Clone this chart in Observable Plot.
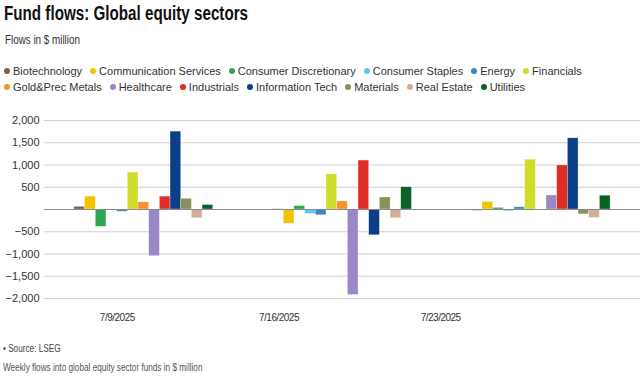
<!DOCTYPE html>
<html>
<head>
<meta charset="utf-8">
<script src="https://cdn.jsdelivr.net/npm/d3@7"></script>
<script src="https://cdn.jsdelivr.net/npm/@observablehq/plot@0.6"></script>
<style>
  html, body { margin: 0; padding: 0; background: #fff; }
  body { width: 643px; height: 380px; overflow: hidden; font-family: "Liberation Sans", Arial, sans-serif; color: #222; }
  .narrow { display: inline-block; transform: scaleX(0.82); transform-origin: 0 50%; white-space: nowrap; }
  .title .narrow { transform: scaleX(0.76); }
  .title { font-size: 20px; font-weight: bold; line-height: 24px; padding: 1px 0 0 4px; color: #111; }
  .subtitle { font-size: 12px; line-height: 16px; margin-top: 7px; padding-left: 5px; color: #333; }
  .legend { display: flex; flex-wrap: wrap; margin-top: 15px; padding-left: 4px; font-size: 11px; line-height: 16px; color: #333; }
  .legend .item { display: flex; align-items: center; margin-right: 8px; white-space: nowrap; }
  .legend .sw { width: 6px; height: 6px; border-radius: 50%; margin-right: 3px; }
  #chart { margin-top: 4px; height: 206px; }
  #labels { height: 24px; }
  .foot { font-size: 10px; line-height: 14px; padding-left: 3px; color: #444; }
  .source { margin-top: 13px; }
  .caption { margin-top: 5px; color: #555; }
</style>
</head>
<body>
<div class="title"><span class="narrow">Fund flows: Global equity sectors</span></div>
<div class="subtitle"><span class="narrow">Flows in $ million</span></div>
<div class="legend" id="legend"></div>
<div id="chart"></div>
<div id="labels"></div>
<div class="foot source"><span class="narrow">• Source: LSEG</span></div>
<div class="foot caption"><span class="narrow">Weekly flows into global equity sector funds in $ million</span></div>
<script>
const dates = ["7/9/2025", "7/16/2025", "7/23/2025"];
const sectors = ["Biotechnology", "Communication Services", "Consumer Discretionary", "Consumer Staples", "Energy", "Financials", "Gold&Prec Metals", "Healthcare", "Industrials", "Information Tech", "Materials", "Real Estate", "Utilities"];
const sectorColors = ["#7d5e4b", "#f2c300", "#2ea553", "#5cc8f5", "#3a86c5", "#cfdc2a", "#f7922c", "#9a87c5", "#e02d28", "#0b3f87", "#86925a", "#d3ad96", "#0b6127"];
const flows_0709 = [60, 290, -390, -15, -50, 830, 160, -1050, 290, 1750, 240, -195, 100];
const flows_0716 = [5, -320, 75, -100, -130, 790, 180, -1920, 1100, -580, 270, -195, 500];
const flows_0723 = [-30, 170, 35, -40, 50, 1120, -20, 315, 990, 1600, -110, -190, 310];
const yTicks = [2000, 1500, 1000, 500, -500, -1000, -1500, -2000];

const series = [flows_0709, flows_0716, flows_0723];
const data = dates.flatMap((d, i) => sectors.map((s, j) => ({date: d, sector: s, value: series[i][j]})));

// Legend
const legend = document.getElementById("legend");
sectors.forEach((s, i) => {
  const it = document.createElement("div");
  it.className = "item";
  const sw = document.createElement("span");
  sw.className = "sw";
  sw.style.background = sectorColors[i];
  it.appendChild(sw);
  it.appendChild(document.createTextNode(s));
  legend.appendChild(it);
});

const chart = Plot.plot({
  width: 643,
  height: 206,
  marginLeft: 44,
  marginRight: 3,
  marginTop: 21,
  marginBottom: 7,
  style: {fontFamily: "Liberation Sans, Arial, sans-serif", fontSize: "11px", color: "#333", background: "#fff"},
  fx: {domain: dates, paddingInner: 0, paddingOuter: 0, round: false, axis: null, label: null},
  x: {domain: sectors, paddingInner: 0, paddingOuter: 2.8, round: false, axis: null},
  y: {domain: [-2000, 2000], axis: null},
  color: {domain: sectors, range: sectorColors},
  marks: [
    Plot.ruleY(yTicks, {stroke: "#d0d0d0", strokeWidth: 1.2}),
    Plot.axisY(yTicks, {tickSize: 0, tickPadding: 5, tickFormat: d3.format(","), fill: "#333", label: null, fontSize: 11}),
    Plot.barY(data, {fx: "date", x: "sector", y: "value", fill: "sector", stroke: "white", strokeOpacity: 0.5, strokeWidth: 0.6}),
    Plot.ruleY([0], {stroke: "#8a8a8a", strokeWidth: 1.2})
  ]
});
document.getElementById("chart").appendChild(chart);

const labels = Plot.plot({
  width: 643,
  height: 24,
  marginLeft: 36,
  marginRight: 122,
  marginTop: 0,
  marginBottom: 0,
  style: {fontFamily: "Liberation Sans, Arial, sans-serif", fontSize: "10px", background: "#fff"},
  x: {type: "band", domain: dates, padding: 0, round: false, axis: null},
  marks: [
    Plot.text(dates, {x: d => d, frameAnchor: "middle", fill: "#333", fontSize: 10})
  ]
});
labels.querySelectorAll("text").forEach(t => t.style.letterSpacing = "-0.5px");
document.getElementById("labels").appendChild(labels);
</script>
</body>
</html>
